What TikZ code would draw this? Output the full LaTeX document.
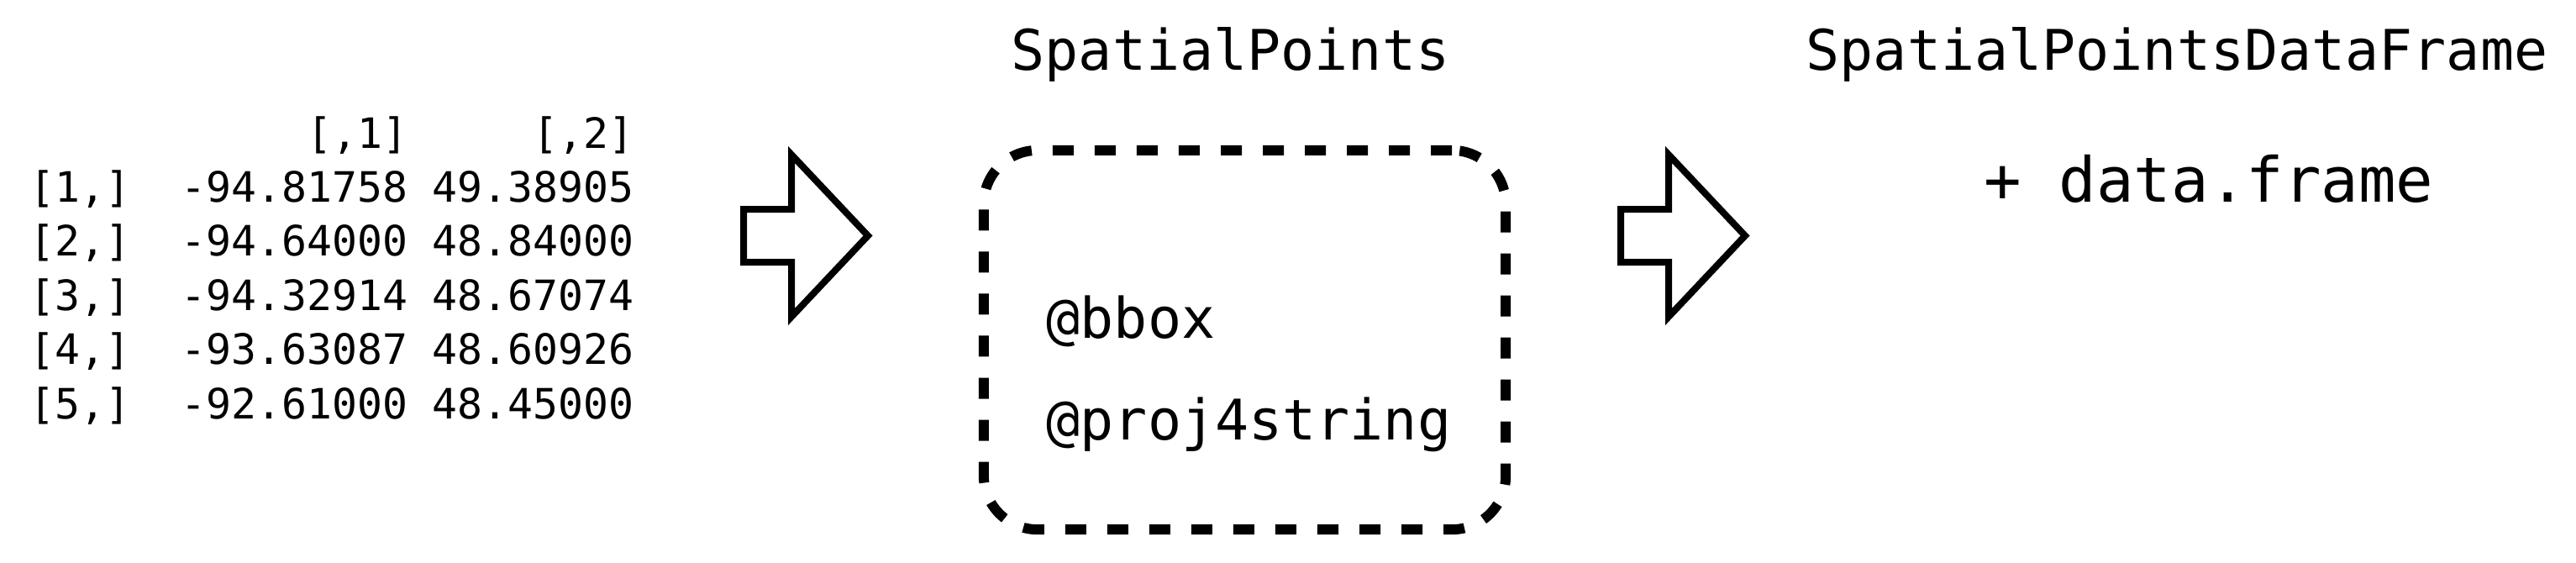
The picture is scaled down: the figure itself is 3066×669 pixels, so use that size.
\documentclass[tikz,border=0pt]{standalone}
\usepackage{fontspec}
\newfontfamily\monof{DejaVu Sans Mono}
\begin{document}
\begin{tikzpicture}[x=0.01cm,y=-0.01cm,
  mat/.style={font=\monof\fontsize{14.15pt}{16pt}\selectfont, anchor=base west, inner sep=0pt},
  ttl/.style={font=\monof\fontsize{18.95pt}{22pt}\selectfont, anchor=base west, inner sep=0pt},
  big/.style={font=\monof\fontsize{21.05pt}{24pt}\selectfont, anchor=base west, inner sep=0pt},
  blockarrow/.style={draw, line width=0.08cm, miter limit=10, fill=white},
  slotbox/.style={draw, line width=0.12cm, dash pattern=on 0.25cm off 0.25cm, rounded corners=0.64cm, inner sep=0pt}]
\useasboundingbox (0,0) rectangle (3066,669);
% matrix of coordinates
\node[mat] (hdr) at (35,176) {~~~~~~~~~~~[,1]~~~~~[,2]};
\node[mat] (r1) at (35,240) {[1,]~~-94.81758~49.38905};
\node[mat] (r2) at (35,304.5) {[2,]~~-94.64000~48.84000};
\node[mat] (r3) at (35,369) {[3,]~~-94.32914~48.67074};
\node[mat] (r4) at (35,433.5) {[4,]~~-93.63087~48.60926};
\node[mat] (r5) at (35,498) {[5,]~~-92.61000~48.45000};
% first block arrow
\draw[blockarrow] (885,249) -- (942,249) -- (942,184) -- (1033,280.5) -- (942,377) -- (942,312) -- (885,312) -- cycle;
% SpatialPoints
\node[ttl] (sp) at (1203,83) {SpatialPoints};
\node[slotbox, minimum width=6.21cm, minimum height=4.51cm] (box) at (1481.5,404.5) {};
\node[ttl] (bbox) at (1245,402) {@bbox};
\node[ttl] (proj) at (1245,523) {@proj4string};
% second block arrow
\draw[blockarrow] (1929,249) -- (1986,249) -- (1986,184) -- (2077,280.5) -- (1986,377) -- (1986,312) -- (1929,312) -- cycle;
% SpatialPointsDataFrame
\node[ttl] (spdf) at (2149,83) {SpatialPointsDataFrame};
\node[big] (df) at (2361,240) {+ data.frame};
\end{tikzpicture}
\end{document}
